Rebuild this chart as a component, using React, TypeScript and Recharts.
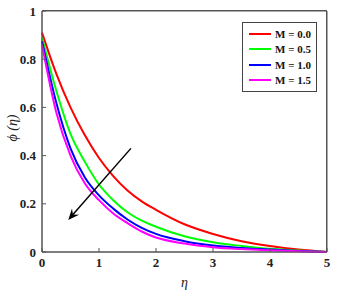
import React from 'react';
import { LineChart, Line, XAxis, YAxis, ReferenceLine, ReferenceArea } from 'recharts';

// eta grid and phi(eta) values
const eta = [0, 0.25, 0.5, 0.75, 1, 1.25, 1.5, 1.75, 2, 2.5, 3, 3.5, 4, 4.5, 5];
const phiM00 = [0.91, 0.74, 0.6, 0.485, 0.39, 0.315, 0.255, 0.21, 0.175, 0.115, 0.075, 0.045, 0.025, 0.01, 0];
const phiM05 = [0.89, 0.67, 0.49, 0.375, 0.28, 0.215, 0.165, 0.13, 0.105, 0.065, 0.04, 0.025, 0.013, 0.006, 0];
const phiM10 = [0.875, 0.62, 0.43, 0.31, 0.235, 0.18, 0.135, 0.1, 0.075, 0.045, 0.027, 0.017, 0.01, 0.004, 0];
const phiM15 = [0.86, 0.58, 0.4, 0.285, 0.215, 0.16, 0.12, 0.085, 0.06, 0.035, 0.02, 0.012, 0.007, 0.003, 0];

const xTicks = [0, 1, 2, 3, 4, 5];
const yTicks = [0, 0.2, 0.4, 0.6, 0.8, 1];

const series = [
  { key: 'm00', label: 'M = 0.0', color: '#ff0000', values: phiM00 },
  { key: 'm05', label: 'M = 0.5', color: '#00ff00', values: phiM05 },
  { key: 'm10', label: 'M = 1.0', color: '#0000ff', values: phiM10 },
  { key: 'm15', label: 'M = 1.5', color: '#ff00ff', values: phiM15 },
];

// arrow showing increasing M
const arrowFrom = { x: 1.56, y: 0.43 };
const arrowTo = { x: 0.46, y: 0.133 };

const data = eta.map((e, i) => {
  const row: any = { eta: e };
  series.forEach(s => { row[s.key] = s.values[i]; });
  return row;
});

const axisColor = '#555';
const tickFont = { fontFamily: 'Liberation Serif', fontWeight: 'bold', fontSize: 13, fill: '#222' };

const ArrowShape = (props: any) => {
  const { x1, y1, x2, y2 } = props;
  if (x1 == null) return null;
  const ang = Math.atan2(y2 - y1, x2 - x1);
  const len = 12;
  const spread = 0.4;
  const p1 = [x2 - len * Math.cos(ang - spread), y2 - len * Math.sin(ang - spread)];
  const p2 = [x2 - len * Math.cos(ang + spread), y2 - len * Math.sin(ang + spread)];
  const pm = [x2 - len * 0.6 * Math.cos(ang), y2 - len * 0.6 * Math.sin(ang)];
  return (
    <g>
      <line x1={x1} y1={y1} x2={pm[0]} y2={pm[1]} stroke="#000" strokeWidth={1.5} />
      <polygon points={`${x2},${y2} ${p1[0]},${p1[1]} ${pm[0]},${pm[1]} ${p2[0]},${p2[1]}`} fill="#000" />
    </g>
  );
};

const LegendBox = () => (
  <div style={{ position: 'absolute', left: 242, top: 22, border: '1px solid #444', background: '#fff', padding: '3px 5px 3px 6px', width: 62 }}>
    {series.map(s => (
      <div key={s.key} style={{ display: 'flex', alignItems: 'center', height: 15.5 }}>
        <div style={{ width: 28, height: 2, background: s.color, marginRight: 4 }} />
        <span style={{ fontFamily: 'Liberation Serif', fontWeight: 'bold', fontSize: 11, color: '#111', whiteSpace: 'nowrap' }}>{s.label}</span>
      </div>
    ))}
  </div>
);

export default function App() {
  return (
    <div style={{ position: 'absolute', left: 0, top: 0, width: 338, height: 297, background: '#fff' }}>
      <LineChart width={338} height={297} data={data} margin={{ top: 11, right: 11, bottom: 0, left: 2 }}>
        <XAxis
          dataKey="eta"
          type="number"
          domain={[0, 5]}
          ticks={xTicks}
          stroke={axisColor}
          tickSize={-4}
          tickMargin={10}
          height={45}
          tick={tickFont}
          label={{ value: 'η', position: 'insideBottom', offset: 10, style: { fontFamily: 'Liberation Serif', fontStyle: 'italic', fontSize: 14, fill: '#222' } }}
        />
        <YAxis
          type="number"
          domain={[0, 1]}
          ticks={yTicks}
          stroke={axisColor}
          tickSize={-4}
          tickMargin={10}
          width={40}
          tick={tickFont}
          label={{ value: 'ϕ (η)', angle: -90, position: 'insideLeft', offset: 10, dy: 10, style: { fontFamily: 'Liberation Serif', fontStyle: 'italic', fontSize: 14, fill: '#222' } }}
        />
        {/* full axes box */}
        <ReferenceArea x1={0} x2={5} y1={0} y2={1} fill="none" fillOpacity={0} stroke={axisColor} strokeWidth={1} strokeOpacity={1} ifOverflow="visible" />
        {series.map(s => (
          <Line key={s.key} type="monotone" dataKey={s.key} name={s.label} stroke={s.color} strokeWidth={2} dot={false} isAnimationActive={false} />
        ))}
        <ReferenceLine segment={[arrowFrom, arrowTo]} shape={<ArrowShape />} ifOverflow="visible" />
      </LineChart>
      <div style={{ position: 'absolute', left: 42, top: 10, width: 285, height: 242, boxSizing: 'border-box', borderTop: `1px solid ${axisColor}`, borderRight: `1px solid ${axisColor}`, pointerEvents: 'none' }} />
      <LegendBox />
    </div>
  );
}
